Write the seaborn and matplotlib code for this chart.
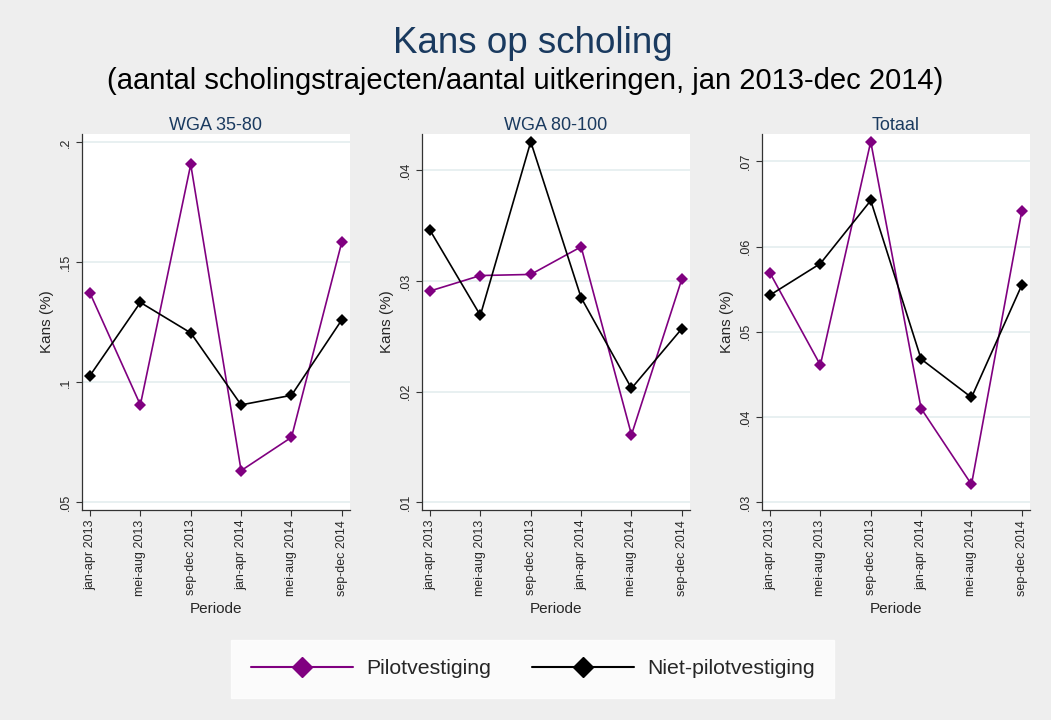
import pandas as pd
import seaborn as sns
import matplotlib.pyplot as plt

# periods and values
periodes = ['jan-apr 2013', 'mei-aug 2013', 'sep-dec 2013',
            'jan-apr 2014', 'mei-aug 2014', 'sep-dec 2014']
groepen = ['Pilotvestiging', 'Niet-pilotvestiging']

wga3580_pilot = [0.1372, 0.0906, 0.1908, 0.0632, 0.0771, 0.1586]
wga3580_niet = [0.1028, 0.1333, 0.1206, 0.0906, 0.0946, 0.1261]
wga80100_pilot = [0.0291, 0.0305, 0.0306, 0.0331, 0.0161, 0.0302]
wga80100_niet = [0.0346, 0.0269, 0.0426, 0.0285, 0.0203, 0.0257]
totaal_pilot = [0.0569, 0.0461, 0.0723, 0.0410, 0.0321, 0.0642]
totaal_niet = [0.0543, 0.0580, 0.0654, 0.0468, 0.0423, 0.0555]

panelen = ['WGA 35-80', 'WGA 80-100', 'Totaal']
yticks = [[0.05, 0.1, 0.15, 0.2], [0.01, 0.02, 0.03, 0.04], [0.03, 0.04, 0.05, 0.06, 0.07]]
yticklabels = [['.05', '.1', '.15', '.2'], ['.01', '.02', '.03', '.04'], ['.03', '.04', '.05', '.06', '.07']]
ylims = [(0.0468, 0.2035), (0.0093, 0.0433), (0.0291, 0.0732)]

series = {
    'WGA 35-80': (wga3580_pilot, wga3580_niet),
    'WGA 80-100': (wga80100_pilot, wga80100_niet),
    'Totaal': (totaal_pilot, totaal_niet),
}

rows = []
for p in panelen:
    pil, niet = series[p]
    for i, per in enumerate(periodes):
        rows.append({'paneel': p, 'periode': i, 'groep': groepen[0], 'kans': pil[i]})
        rows.append({'paneel': p, 'periode': i, 'groep': groepen[1], 'kans': niet[i]})
df = pd.DataFrame(rows)

sns.set_style('white')
plt.rcParams['font.family'] = ['Liberation Sans', 'DejaVu Sans']

bg = '#EEEEEE'
navy = '#1A3A5F'
kleuren = {'Pilotvestiging': '#800080', 'Niet-pilotvestiging': '#000000'}

fig = plt.figure(figsize=(10.51, 7.2), dpi=100, facecolor=bg)
lefts = [0.0777, 0.4012, 0.7247]
width = 0.2555
bottom, top = 0.2917, 0.8139

for k, p in enumerate(panelen):
    ax = fig.add_axes([lefts[k], bottom, width, top - bottom])
    ax.set_facecolor('white')
    for y in yticks[k]:
        ax.axhline(y, color='#E4EEEF', lw=1.2, zorder=0)
    sns.lineplot(data=df[df['paneel'] == p], x='periode', y='kans', hue='groep',
                 hue_order=groepen, palette=kleuren, style='groep', markers=['D', 'D'],
                 dashes=False, markersize=6, markeredgewidth=0, linewidth=1.2,
                 legend=False, ax=ax)
    ax.set_xlim(-0.165, 5.165)
    ax.set_ylim(*ylims[k])
    ax.set_xticks(range(len(periodes)))
    ax.set_xticklabels(periodes, rotation=90, fontsize=9)
    ax.set_yticks(yticks[k])
    ax.set_yticklabels(yticklabels[k], rotation=90, va='center', fontsize=9)
    ax.tick_params(axis='both', length=4, width=0.8, color='#333333', bottom=True, left=True, pad=3)
    for s in ['top', 'right']:
        ax.spines[s].set_visible(False)
    for s in ['left', 'bottom']:
        ax.spines[s].set_color('#333333')
        ax.spines[s].set_linewidth(0.9)
    ax.set_xlabel('Periode', fontsize=11, labelpad=4)
    ax.set_ylabel('Kans (%)', fontsize=11, labelpad=4)
    ax.set_title(p, fontsize=13, color=navy, pad=3)

fig.text(0.507, 0.940, 'Kans op scholing', ha='center', va='center', fontsize=26.5, color=navy)
fig.text(0.5, 0.887, '(aantal scholingstrajecten/aantal uitkeringen, jan 2013-dec 2014)',
         ha='center', va='center', fontsize=21, color='black')

handles = [plt.Line2D([], [], color=kleuren[g], marker='D', markersize=10, lw=1.5) for g in groepen]
leg = fig.legend(handles, groepen, loc='center', bbox_to_anchor=(0.507, 0.071), ncol=2,
                 fontsize=15.3, frameon=True, fancybox=False, handlelength=4.8,
                 columnspacing=1.9, borderpad=0.9, handletextpad=0.65)
leg.get_frame().set_facecolor('white')
leg.get_frame().set_edgecolor('white')

fig.savefig('out.png', dpi=100, facecolor=bg)
